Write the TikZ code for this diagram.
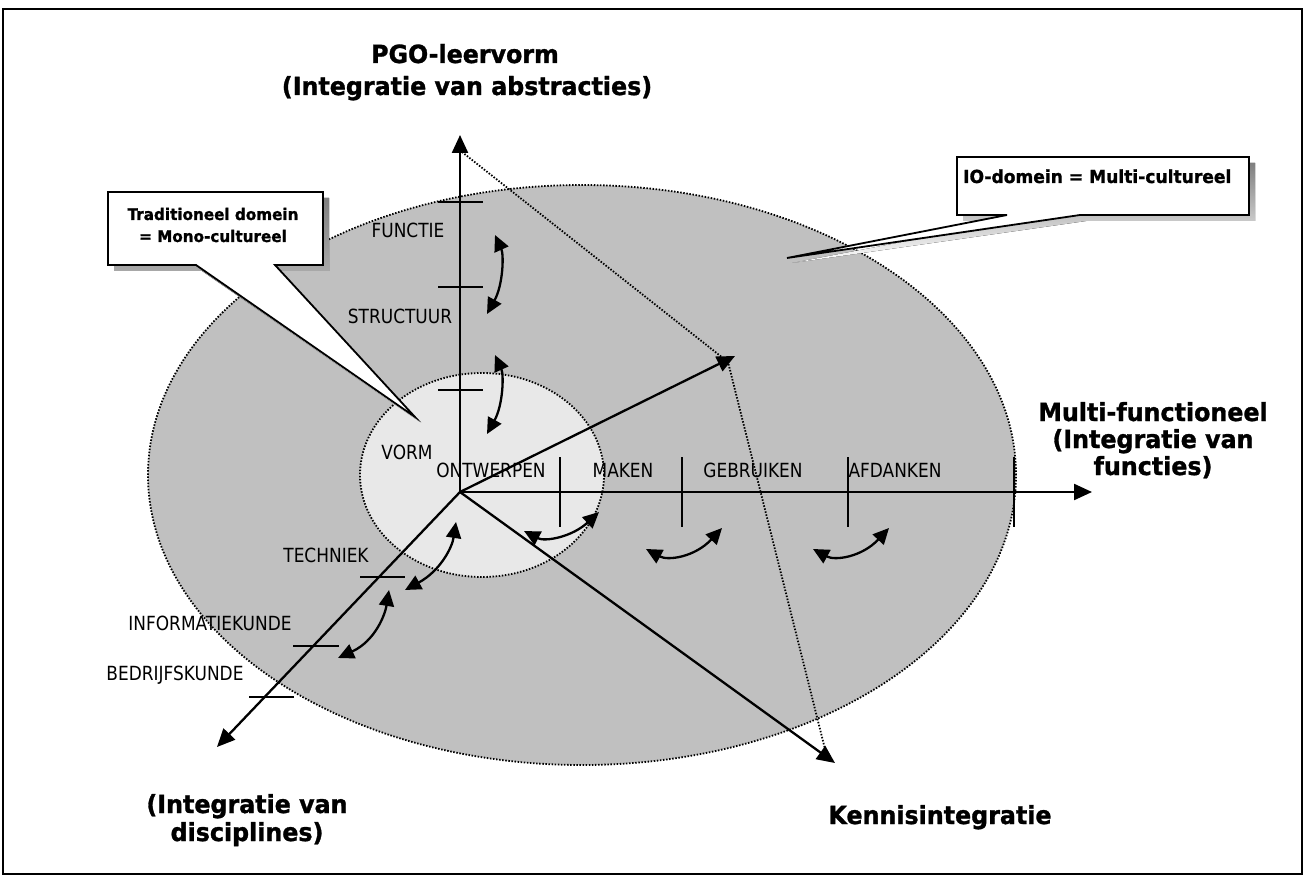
\documentclass[tikz,border=0pt]{standalone}
\usepackage{fontspec}
\setmainfont{DejaVu Sans}
\newfontfamily\lblfont[FakeStretch=0.87]{DejaVu Sans}
\newfontfamily\titlefont[FakeStretch=0.95,FakeBold=1.2]{DejaVu Sans Bold}
\usetikzlibrary{arrows.meta}
\definecolor{outerfill}{HTML}{C0C0C0}
\definecolor{innerfill}{HTML}{E8E8E8}
\definecolor{shade}{HTML}{808080}
\begin{document}
\begin{tikzpicture}[x=1pt,y=-1pt,
  axisline/.style={line width=2.3pt, -{Triangle[length=18pt,width=16pt]}},
  tickmark/.style={line width=2.2pt},
  dots/.style={line width=1.8pt, dash pattern=on 1.5pt off 1.6pt},
  swing/.style={line width=2.3pt, {Triangle[length=16pt,width=15pt]}-{Triangle[length=16pt,width=15pt]}},
  lbl/.style={font=\lblfont\fontsize{19.5}{22}\selectfont, inner sep=0pt},
  bigtitle/.style={font=\titlefont\fontsize{25}{28}\selectfont, inner sep=0pt, anchor=base},
  calltxt/.style={font=\titlefont\fontsize{18}{21}\selectfont, inner sep=0pt},
  callbox/.style={fill=white, draw=black, line width=1.8pt, line join=miter},
]
\useasboundingbox (0,0) rectangle (1306,877);
\fill[white] (0,0) rectangle (1306,877);
\draw[line width=2.5pt] (3,9) rectangle (1302,874);

% domains
\draw[dots, fill=outerfill] (582,475) ellipse [x radius=434pt, y radius=290pt];
\draw[dots, fill=innerfill] (482,475) ellipse [x radius=122pt, y radius=102pt];

% coordinates
\coordinate (O) at (460,492);
\coordinate (Ytip) at (460,135);
\coordinate (Xtip) at (1092,492);
\coordinate (Dtip) at (217,747);
\coordinate (Utip) at (735,356);
\coordinate (Ltip) at (835,763);
\coordinate (p1) at (462,152);
\coordinate (p2) at (728,362);
\coordinate (p3) at (827,757);

% dotted plane
\draw[dots] (p1) -- (p2) -- (p3);

% axes
\draw[axisline] (O) -- (Ytip);
\draw[axisline] (O) -- (Xtip);
\draw[axisline] (O) -- (Dtip);
\draw[axisline] (O) -- (Utip);
\draw[axisline] (O) -- (Ltip);

% ticks
\foreach \yy in {202,287,390} \draw[tickmark] (438,\yy) -- (483,\yy);
\foreach \xx in {560,682,848,1014} \draw[tickmark] (\xx,457) -- (\xx,527);
\draw[tickmark] (360,577) -- (405,577);
\draw[tickmark] (293,646) -- (339,646);
\draw[tickmark] (249,697) -- (294,697);

% labels
\node[lbl] (functie) at (408,230) {FUNCTIE};
\node[lbl] (structuur) at (400,316) {STRUCTUUR};
\node[lbl] (vorm) at (407,452) {VORM};
\node[lbl] (ontwerpen) at (491,470) {ONTWERPEN};
\node[lbl] (maken) at (623,470) {MAKEN};
\node[lbl] (gebruiken) at (753,470) {GEBRUIKEN};
\node[lbl] (afdanken) at (895,470) {AFDANKEN};
\node[lbl] (techniek) at (326,555) {TECHNIEK};
\node[lbl] (informatiekunde) at (210,623) {INFORMATIEKUNDE};
\node[lbl] (bedrijfskunde) at (175,675) {BEDRIJFSKUNDE};

% swing arrows
\coordinate (s1a) at (495,235); \coordinate (s1b) at (487,314);
\coordinate (s2a) at (495,355); \coordinate (s2b) at (487,434);
\coordinate (s3a) at (524,531); \coordinate (s3b) at (599,512);
\coordinate (s4a) at (646,549); \coordinate (s4b) at (722,528);
\coordinate (s5a) at (813,549); \coordinate (s5b) at (889,528);
\coordinate (s6a) at (456,522); \coordinate (s6b) at (405,590);
\coordinate (s7a) at (389,590); \coordinate (s7b) at (338,658);
\draw[swing] (s1a) .. controls (504,255) and (503,285) .. (s1b);
\draw[swing] (s2a) .. controls (504,375) and (503,405) .. (s2b);
\draw[swing] (s3a) .. controls (545,542) and (572,537) .. (s3b);
\draw[swing] (s4a) .. controls (668,561) and (695,557) .. (s4b);
\draw[swing] (s5a) .. controls (835,561) and (862,557) .. (s5b);
\draw[swing] (s6a) .. controls (452,548) and (440,571) .. (s6b);
\draw[swing] (s7a) .. controls (385,615) and (375,641) .. (s7b);

% titles
\node[bigtitle] (pgo1) at (465,63) {PGO-leervorm};
\node[bigtitle] (pgo2) at (467,95) {(Integratie van abstracties)};
\node[bigtitle] (mf1) at (1153,421) {Multi-functioneel};
\node[bigtitle] (mf2) at (1153,448) {(Integratie van};
\node[bigtitle] (mf3) at (1153,475) {functies)};
\node[bigtitle] (dis1) at (247,813) {(Integratie van};
\node[bigtitle] (dis2) at (247,841) {disciplines)};
\node[bigtitle] (kennis) at (940,824) {Kennisintegratie};

% callout: traditional domain
\coordinate (tt) at (415,417);
\fill[shade] (114,198) -- (329,198) -- (329,271) -- (281,271) -- (420,422) -- (202,271) -- (114,271) -- cycle;
\draw[callbox] (108,192) -- (323,192) -- (323,265) -- (275,265) -- (tt) -- (196,265) -- (108,265) -- cycle;
\node[calltxt, font=\titlefont\fontsize{16}{19}\selectfont, anchor=base] (trad1) at (213,220) {Traditioneel domein};
\node[calltxt, font=\titlefont\fontsize{16}{19}\selectfont, anchor=base] (trad2) at (213,242) {= Mono-cultureel};

% callout: IO domain
\coordinate (it) at (787,258);
\fill[shade] (963,163) -- (1255,163) -- (1255,221) -- (1086,221) -- (792,263) -- (1013,221) -- (963,221) -- cycle;
\draw[callbox] (957,157) -- (1249,157) -- (1249,215) -- (1080,215) -- (it) -- (1007,215) -- (957,215) -- cycle;
\node[calltxt, anchor=base west] (iotext) at (963,183) {IO-domein = Multi-cultureel};
\end{tikzpicture}
\end{document}
